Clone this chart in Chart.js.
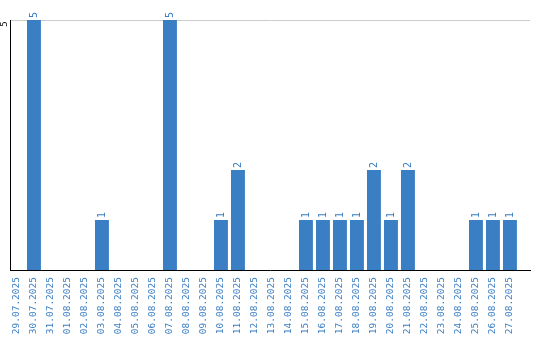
<!DOCTYPE html>
<html>
<head>
<meta charset="utf-8">
<script src="https://cdn.jsdelivr.net/npm/chart.js@4/dist/chart.umd.min.js"></script>
<style>
  html, body { margin: 0; padding: 0; background: #fff; }
  #wrap { width: 540px; height: 340px; }
</style>
</head>
<body>
<div id="wrap"><canvas id="barChart" width="540" height="340"></canvas></div>
<script>
// dates on the x axis
let dates = ["29.07.2025","30.07.2025","31.07.2025","01.08.2025","02.08.2025","03.08.2025",
  "04.08.2025","05.08.2025","06.08.2025","07.08.2025","08.08.2025","09.08.2025","10.08.2025",
  "11.08.2025","12.08.2025","13.08.2025","14.08.2025","15.08.2025","16.08.2025","17.08.2025",
  "18.08.2025","19.08.2025","20.08.2025","21.08.2025","22.08.2025","23.08.2025","24.08.2025",
  "25.08.2025","26.08.2025","27.08.2025"];
// count per day
let counts = [0,5,0,0,0,1,0,0,0,5,0,0,1,2,0,0,0,1,1,1,1,2,1,2,0,0,0,1,1,1];
// y tick that is shown
let yTicks = [5];

let blue = "#3a7ec4";

// numbers above the bars, turned like the dates
let valueLabels = {
  id: "valueLabels",
  afterDatasetsDraw(chart) {
    let ctx = chart.ctx;
    let meta = chart.getDatasetMeta(0);
    ctx.save();
    ctx.fillStyle = blue;
    ctx.font = "10px 'DejaVu Sans Mono'";
    ctx.textAlign = "left";
    ctx.textBaseline = "middle";
    meta.data.forEach((bar, i) => {
      if (!counts[i]) return;
      ctx.save();
      ctx.translate(bar.x, bar.y - 2);
      ctx.rotate(-Math.PI / 2);
      ctx.fillText(String(counts[i]), 0, 0);
      ctx.restore();
    });
    ctx.restore();
  }
};

new Chart(document.getElementById("barChart"), {
  type: "bar",
  data: {
    datasets: [{
      data: counts.map((c, i) => ({ x: i, y: c })),
      backgroundColor: blue,
      borderWidth: 0,
      categoryPercentage: 1,
      barPercentage: 0.82
    }]
  },
  options: {
    responsive: false,
    animation: false,
    layout: { padding: { top: 20, right: 10, left: 0, bottom: 0 } },
    plugins: {
      legend: { display: false },
      tooltip: { enabled: false }
    },
    scales: {
      x: {
        type: "linear",
        offset: false,
        min: -0.38,
        max: 30.18,
        grid: { display: false, drawTicks: false, offset: false },
        border: { color: "#000", width: 1 },
        afterBuildTicks: s => { s.ticks = dates.map((d, i) => ({ value: i })); },
        afterFit: s => { s.height = 70; s.paddingLeft = 0; s.paddingRight = 0; },
        ticks: {
          autoSkip: false,
          includeBounds: false,
          minRotation: 90,
          maxRotation: 90,
          padding: 7,
          color: blue,
          font: { family: "'DejaVu Sans Mono'", size: 9.5 },
          callback: v => dates[v] || ""
        }
      },
      y: {
        min: 0,
        max: 5,
        grid: { color: "#cccccc", drawTicks: false },
        border: { color: "#000", width: 1 },
        afterBuildTicks: s => { s.ticks = yTicks.map(v => ({ value: v })); },
        afterFit: s => { s.width = 10.5; s.paddingTop = 0; s.paddingBottom = 0; },
        ticks: {
          minRotation: 90,
          maxRotation: 90,
          crossAlign: "center",
          labelOffset: 4,
          padding: 3,
          color: "#000",
          font: { family: "'DejaVu Sans Mono'", size: 9 }
        }
      }
    }
  },
  plugins: [valueLabels]
});
</script>
</body>
</html>
